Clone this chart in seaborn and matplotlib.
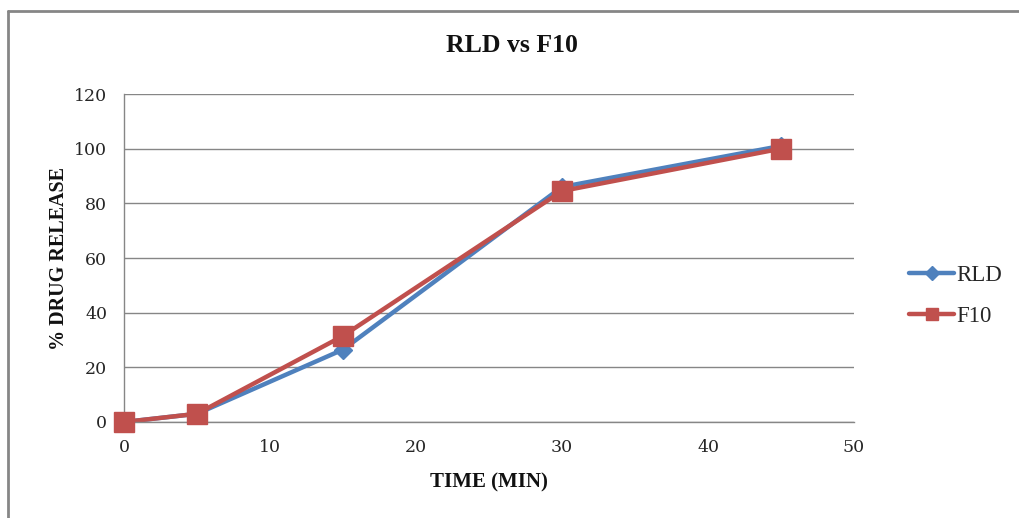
import matplotlib.pyplot as plt
import seaborn as sns
import pandas as pd
from matplotlib.lines import Line2D

# dados
tempo = [0, 5, 15, 30, 45]
rld = [0, 3, 26.5, 86, 101]
f10 = [0, 3, 31.5, 84.5, 100]

azul = '#4F81BD'
vermelho = '#C0504D'
cinza = '#868686'

df = pd.DataFrame({
    'TIME (MIN)': tempo * 2,
    '% DRUG RELEASE': rld + f10,
    'Serie': ['RLD'] * len(tempo) + ['F10'] * len(tempo),
})

sns.set_style('white')
plt.rcParams['font.family'] = ['Liberation Serif', 'DejaVu Serif']

fig = plt.figure(figsize=(10.19, 5.18), dpi=100)
ax = fig.add_axes([124 / 1019, 1 - 422 / 518, 730 / 1019, 328 / 518])

sns.lineplot(data=df, x='TIME (MIN)', y='% DRUG RELEASE', hue='Serie',
             palette={'RLD': azul, 'F10': vermelho},
             linewidth=3.2, ax=ax, legend=False)
for l in ax.lines:
    l.set_clip_on(False)
# marcadores por cima
ax.plot(tempo, rld, linestyle='none', marker='D', markersize=9, color=azul, zorder=3, clip_on=False)
ax.plot(tempo, f10, linestyle='none', marker='s', markersize=14, color=vermelho, zorder=4, clip_on=False)

ax.set_xlim(0, 50)
ax.set_ylim(0, 120)
ax.set_xticks(range(0, 51, 10))
ax.set_yticks(range(0, 121, 20))
ax.yaxis.grid(True, color=cinza, linewidth=1)
ax.xaxis.grid(False)
for lado in ['top', 'right']:
    ax.spines[lado].set_visible(False)
for lado in ['left', 'bottom']:
    ax.spines[lado].set_color(cinza)
    ax.spines[lado].set_linewidth(1)
ax.tick_params(length=0, labelsize=12.5, colors='#262626')
ax.tick_params(axis='y', pad=12)
ax.tick_params(axis='x', pad=12)
for t in ax.get_xticklabels() + ax.get_yticklabels():
    t.set_fontfamily('DejaVu Serif')

ax.set_xlabel('TIME (MIN)', fontsize=15, fontweight='bold', color='#111111', labelpad=12)
ax.set_ylabel('% DRUG RELEASE', fontsize=14.5, fontweight='bold', color='#111111', labelpad=4)
fig.text(512 / 1019, 1 - 46 / 518, 'RLD vs F10', ha='center', va='center',
         fontsize=18.5, fontweight='bold', color='#111111')

handles = [Line2D([], [], color=azul, linewidth=3.2, marker='D', markersize=7),
           Line2D([], [], color=vermelho, linewidth=3.2, marker='s', markersize=9)]
fig.legend(handles, ['RLD', 'F10'], loc='center left', bbox_to_anchor=(888 / 1019, 1 - 296 / 518),
           frameon=False, fontsize=16.5, handlelength=2.0, handletextpad=0.1, labelspacing=0.85)

# borda externa
fig.add_artist(Line2D([8 / 1019, 8 / 1019], [0, 1 - 11 / 518], color=cinza, linewidth=2))
fig.add_artist(Line2D([8 / 1019, 1], [1 - 11 / 518, 1 - 11 / 518], color=cinza, linewidth=2))

fig.savefig('out.png', dpi=100)
